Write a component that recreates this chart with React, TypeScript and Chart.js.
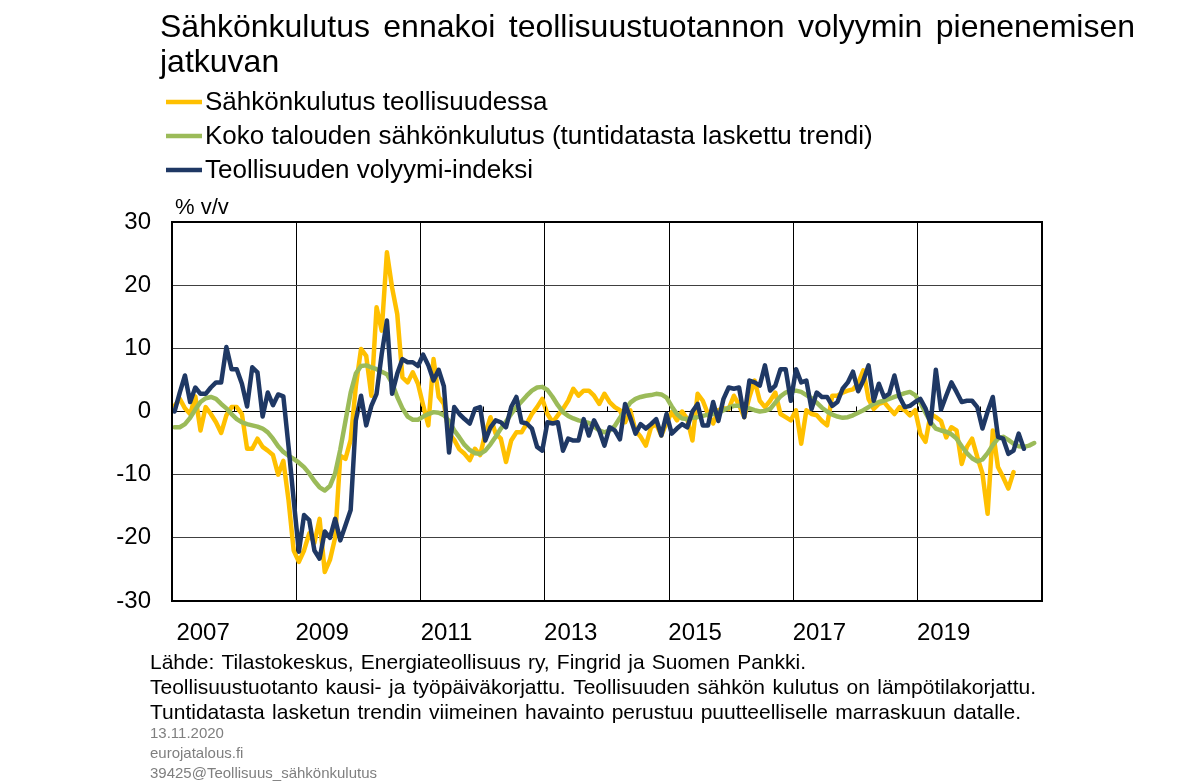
import React, { useEffect, useRef } from "react";
import { Chart, registerables } from "chart.js";

Chart.register(...registerables);

// ---- Text ----
const titleLines = [
  "Sähkönkulutus ennakoi teollisuustuotannon volyymin pienenemisen",
  "jatkuvan",
];
const seriesNames = [
  "Sähkönkulutus teollisuudessa",
  "Koko talouden sähkönkulutus (tuntidatasta laskettu trendi)",
  "Teollisuuden volyymi-indeksi",
];
const unitLabel = "% v/v";
const noteLines = [
  "Lähde: Tilastokeskus, Energiateollisuus ry, Fingrid ja Suomen Pankki.",
  "Teollisuustuotanto kausi- ja työpäiväkorjattu. Teollisuuden sähkön kulutus on lämpötilakorjattu.",
  "Tuntidatasta lasketun trendin viimeinen havainto perustuu puutteelliselle marraskuun datalle.",
];
const greyLines = ["13.11.2020", "eurojatalous.fi", "39425@Teollisuus_sähkönkulutus"];

// ---- Categories: monthly observations from January 2007 ----
const firstYear = 2007;
const yearLabels = ["2007", "2009", "2011", "2013", "2015", "2017", "2019"];
const yTicks = [-30, -20, -10, 0, 10, 20, 30];

// ---- Series (% y/y), one value per month from Jan 2007 ----
const industryElectricity = [
  0.9, 2, 0.5, -0.4, 2.4, -3, 0.7, -0.4, -1.7, -3.4, -0.6, 0.7,
  0.7, -0.4, -5.9, -5.9, -4.3, -5.6, -6.2, -6.9, -10, -7.8, -14, -22,
  -23.8, -22, -19.3, -20.8, -17, -25.4, -23.5, -20, -7, -7.5, -4.5, 4,
  9.9, 8.8, 2.5, 16.5, 12.8, 25.2, 19.6, 15.4, 5.4, 4.6, 6.2, 4.4,
  1, -2.2, 8.3, 2.3, 1.2, -3.5, -4.5, -6, -6.7, -7.7, -5.9, -6.9,
  -3.5, -0.9, -3.5, -4.3, -8, -4.6, -3.3, -3.3, -1.9, -0.4, 0.7, 2,
  -0.4, -1.7, -0.6, 0.4, 1.7, 3.6, 2.5, 3.3, 3.3, 2.5, 1.2, 2.8,
  1.5, 0.7, 0.2, -1.7, 0.2, -3, -4, -5.4, -2.5, -2, -3.8, -1.8,
  -0.1, -1.4, 0, -1.2, -4.6, 2.8, 1.7, -0.4, -1.9, 0.2, 0.5, 0.4,
  2.5, 1, -0.9, 2.3, 4.9, 1.7, 0.7, 1.7, 3, -0.4, -0.9, -1.4,
  0.2, -5.1, 0.2, -0.4, -0.6, -1.5, -2.2, 2.5, 2.5, 3, 3.3, 3.5,
  4.5, 6.5, 2, 0.4, 1.2, 1.5, 0.5, -0.4, 0.7, 0.2, -0.6, 0.2,
  -3.5, -4.8, -0.4, -0.9, -1.5, -4.1, -2.5, -3, -8.3, -5.6, -4.3, -7.2,
  -9.8, -16.2, -3, -8.8, -10.4, -12.2, -9.6,
];

const totalElectricityTrend = [
  -2.5, -2.5, -2, -1, 0.3, 1.5, 2.1, 2.3, 2, 1.2, 0.5, -0.4,
  -1.2, -1.7, -2, -2.2, -2.4, -2.7, -3.3, -4.3, -5.5, -6.4, -7, -7.5,
  -8.1, -8.8, -9.8, -11, -12, -12.5, -11.8, -9.8, -6, -1.5, 3, 6,
  7.2, 7.3, 7, 6.7, 6.3, 5.9, 4.5, 2.3, 0.5, -0.8, -1.3, -1.3,
  -0.8, -0.4, -0.1, -0.2, -0.6, -1.5, -3, -4.1, -5.3, -6.1, -6.6, -6.7,
  -6.2, -5.2, -4, -2.7, -1.6, -0.4, 0.7, 1.6, 2.5, 3.3, 3.8, 3.9,
  3.4, 2.3, 1, -0.1, -0.7, -1.1, -1.4, -1.6, -1.8, -2.4, -3, -3.3,
  -3, -2.3, -1, 0.2, 1.4, 2, 2.3, 2.5, 2.6, 2.8, 2.7, 2.2,
  0.8, -0.4, -1.1, -1.2, -1, -0.9, -0.7, -0.5, -0.4, -0.2, 0.2, 0.6,
  0.9, 0.9, 0.7, 0.5, 0.2, 0, 0.1, 0.4, 1.4, 2.4, 3, 3.3,
  3.3, 3.1, 2.6, 2.1, 1.4, 0.6, 0, -0.5, -0.8, -1, -0.9, -0.6,
  -0.2, 0.2, 0.7, 1.2, 1.5, 1.7, 2, 2.3, 2.6, 2.9, 3.1, 2.6,
  1.4, -0.2, -1.7, -2.7, -3, -3.2, -3.6, -4.3, -5.5, -6.6, -7.4, -7.9,
  -7.6, -6.6, -5.3, -4.3, -4, -4.5, -5.1, -5.5, -5.6, -5.4, -5,
];

const industrialVolume = [
  0, 3, 5.7, 1.5, 3.8, 2.8, 2.8, 3.8, 4.6, 4.6, 10.2, 6.7,
  6.7, 4.4, 0.8, 7, 6.2, -0.8, 3, 1, 2.7, 2.4, -5.5, -14,
  -22.2, -16.4, -17.2, -22, -23.3, -19, -20, -17, -20.4, -18, -15.6, -1.4,
  2.5, -2.2, 0.9, 2.8, 9.1, 14.4, 2.8, 6, 8.3, 7.8, 7.8, 7.2,
  9, 7.3, 4.9, 6.6, 4, -6.5, 0.7, -0.4, -1.2, -1.9, 0.4, 0.7,
  -4.6, -2.5, -1.4, -1.7, -2.5, 0.7, 2.3, -1.7, -1.9, -2.7, -5.6, -6.2,
  -1.7, -1.9, -1.7, -6.2, -4.3, -4.6, -4.6, -1.2, -3.8, -1.4, -3, -5.4,
  -2.5, -3, -4.4, 1.2, -1, -3.5, -2, -2.7, -2, -1.2, -3.8, -0.4,
  -3.5, -2.7, -2, -2.5, 0, 1.2, -2.2, -2.2, 1.5, -1.5, 2, 3.8,
  3.6, 3.8, -0.9, 4.9, 4.6, 4.1, 7.3, 3.3, 4.1, 6.7, 6.7, 1.7,
  6.7, 4.6, 4.9, 0.4, 3, 2.3, 2.3, 0.9, 1.5, 3.6, 4.6, 6.3,
  3.2, 4.9, 7.3, 1.7, 4.4, 2.3, 2.8, 5.7, 2.3, 0.7, 0.9, 1.5,
  2, 0.5, -1.9, 6.6, 0.3, 2.5, 4.6, 3.1, 1.5, 1.7, 1.7, 0.7,
  -2.7, 0, 2.3, -4, -4.3, -6.7, -6.2, -3.5, -5.9,
];

const seriesColors = ["#FFC000", "#9BBB59", "#1F3864"];

// ---- Layout / style ----
const W = 1195;
const H = 781;
const FONT = "'Liberation Sans', Arial, Helvetica, sans-serif";
const totalMonths = 168; // Jan 2007 .. Dec 2020

const toPoints = (arr: number[]) => arr.map((y, i) => ({ x: i + 0.5, y }));

function drawJustified(ctx: CanvasRenderingContext2D, text: string, x: number, y: number, width: number) {
  const words = text.split(" ");
  const widths = words.map((w) => ctx.measureText(w).width);
  const total = widths.reduce((s, w) => s + w, 0);
  const gap = words.length > 1 ? (width - total) / (words.length - 1) : 0;
  let cx = x;
  words.forEach((w, i) => {
    ctx.fillText(w, cx, y);
    cx += widths[i] + gap;
  });
}

const decorPlugin = {
  id: "decor",
  beforeDraw(chart: any) {
    const { ctx } = chart;
    ctx.save();
    ctx.fillStyle = "#fff";
    ctx.fillRect(0, 0, chart.width, chart.height);
    ctx.restore();
  },
  afterDraw(chart: any) {
    const { ctx, chartArea: a, scales } = chart;
    ctx.save();
    // plot frame
    ctx.strokeStyle = "#000";
    ctx.lineWidth = 2;
    ctx.strokeRect(a.left, a.top, a.right - a.left, a.bottom - a.top);
    // small tick marks on the zero line
    const y0 = scales.y.getPixelForValue(0);
    ctx.lineWidth = 1;
    for (let m = 12; m < totalMonths; m += 12) {
      const x = Math.round(scales.x.getPixelForValue(m)) + 0.5;
      ctx.beginPath();
      ctx.moveTo(x, y0 - 5);
      ctx.lineTo(x, y0);
      ctx.stroke();
    }

    ctx.fillStyle = "#000";
    ctx.textBaseline = "alphabetic";
    ctx.textAlign = "left";
    // title
    ctx.font = `32px ${FONT}`;
    drawJustified(ctx, titleLines[0], 160, 37, 975);
    ctx.fillText(titleLines[1], 160, 72);

    // legend
    ctx.font = `26px ${FONT}`;
    const rows = [102, 136, 170];
    seriesNames.forEach((name, i) => {
      ctx.strokeStyle = seriesColors[i];
      ctx.lineWidth = 4.5;
      ctx.beginPath();
      ctx.moveTo(166, rows[i]);
      ctx.lineTo(202, rows[i]);
      ctx.stroke();
      ctx.textBaseline = "middle";
      ctx.fillText(name, 205, rows[i] + 1);
    });

    // unit
    ctx.font = `22px ${FONT}`;
    ctx.textBaseline = "middle";
    ctx.fillText(unitLabel, 175, 208);

    // notes
    ctx.textBaseline = "alphabetic";
    ctx.font = `21px ${FONT}`;
    const noteW = [656, 886, 871];
    const noteY = [669, 694, 719];
    noteLines.forEach((t, i) => drawJustified(ctx, t, 150, noteY[i], noteW[i]));
    ctx.fillStyle = "#7f7f7f";
    ctx.font = `15px ${FONT}`;
    const greyY = [738, 758, 778];
    greyLines.forEach((t, i) => ctx.fillText(t, 150, greyY[i]));
    ctx.restore();
  },
};

export default function App() {
  const ref = useRef<HTMLCanvasElement>(null);

  useEffect(() => {
    document.body.style.margin = "0";
    const canvas = ref.current!;
    const labelAt: Record<number, string> = {};
    yearLabels.forEach((y) => {
      const m = (Number(y) - firstYear) * 12;
      labelAt[m === 0 ? 6 : m + 5] = y;
    });
    const gridAt = [24, 48, 72, 96, 120, 144];

    const chart = new Chart(canvas, {
      type: "line",
      data: {
        datasets: [
          {
            label: seriesNames[0],
            data: toPoints(industryElectricity),
            borderColor: seriesColors[0],
            borderWidth: 4.5,
            order: 3,
          },
          {
            label: seriesNames[1],
            data: toPoints(totalElectricityTrend),
            borderColor: seriesColors[1],
            borderWidth: 4.5,
            order: 2,
          },
          {
            label: seriesNames[2],
            data: toPoints(industrialVolume),
            borderColor: seriesColors[2],
            borderWidth: 4.5,
            order: 1,
          },
        ].map((d) => ({
          ...d,
          pointRadius: 0,
          tension: 0,
          fill: false,
          borderJoinStyle: "round" as const,
          borderCapStyle: "round" as const,
        })),
      },
      options: {
        responsive: false,
        animation: false,
        devicePixelRatio: 1,
        layout: { padding: { left: 112, top: 222, right: 153, bottom: 130 } },
        plugins: {
          legend: { display: false },
          title: { display: false },
          tooltip: { enabled: false },
        },
        scales: {
          x: {
            type: "linear",
            min: 0,
            max: totalMonths,
            afterFit: (s: any) => {
              s.height = 50;
            },
            afterBuildTicks: (s: any) => {
              const vals = [...gridAt, ...Object.keys(labelAt).map(Number)].sort((p, q) => p - q);
              s.ticks = vals.map((v) => ({ value: v }));
            },
            grid: {
              drawTicks: false,
              lineWidth: 1,
              color: (c: any) => (gridAt.includes(c.tick?.value) ? "#000" : "rgba(0,0,0,0)"),
            },
            border: { display: false },
            ticks: {
              autoSkip: false,
              maxRotation: 0,
              minRotation: 0,
              padding: 18,
              color: "#000",
              font: { size: 24, family: FONT },
              callback: (v: any) => labelAt[Number(v)] ?? "",
            },
          },
          y: {
            type: "linear",
            min: -30,
            max: 30,
            afterFit: (s: any) => {
              s.width = 60;
            },
            afterBuildTicks: (s: any) => {
              s.ticks = yTicks.map((v) => ({ value: v }));
            },
            grid: {
              drawTicks: false,
              lineWidth: 1,
              color: (c: any) => (c.tick?.value === 0 ? "#000" : "#404040"),
            },
            border: { display: false },
            ticks: {
              padding: 21,
              color: "#000",
              font: { size: 24, family: FONT },
              callback: (v: any) => String(v),
            },
          },
        },
      },
      plugins: [decorPlugin],
    } as any);

    return () => chart.destroy();
  }, []);

  return (
    <div style={{ width: W, height: H, position: "relative", background: "#fff" }}>
      <canvas ref={ref} width={W} height={H} style={{ display: "block", width: W, height: H }} />
    </div>
  );
}
